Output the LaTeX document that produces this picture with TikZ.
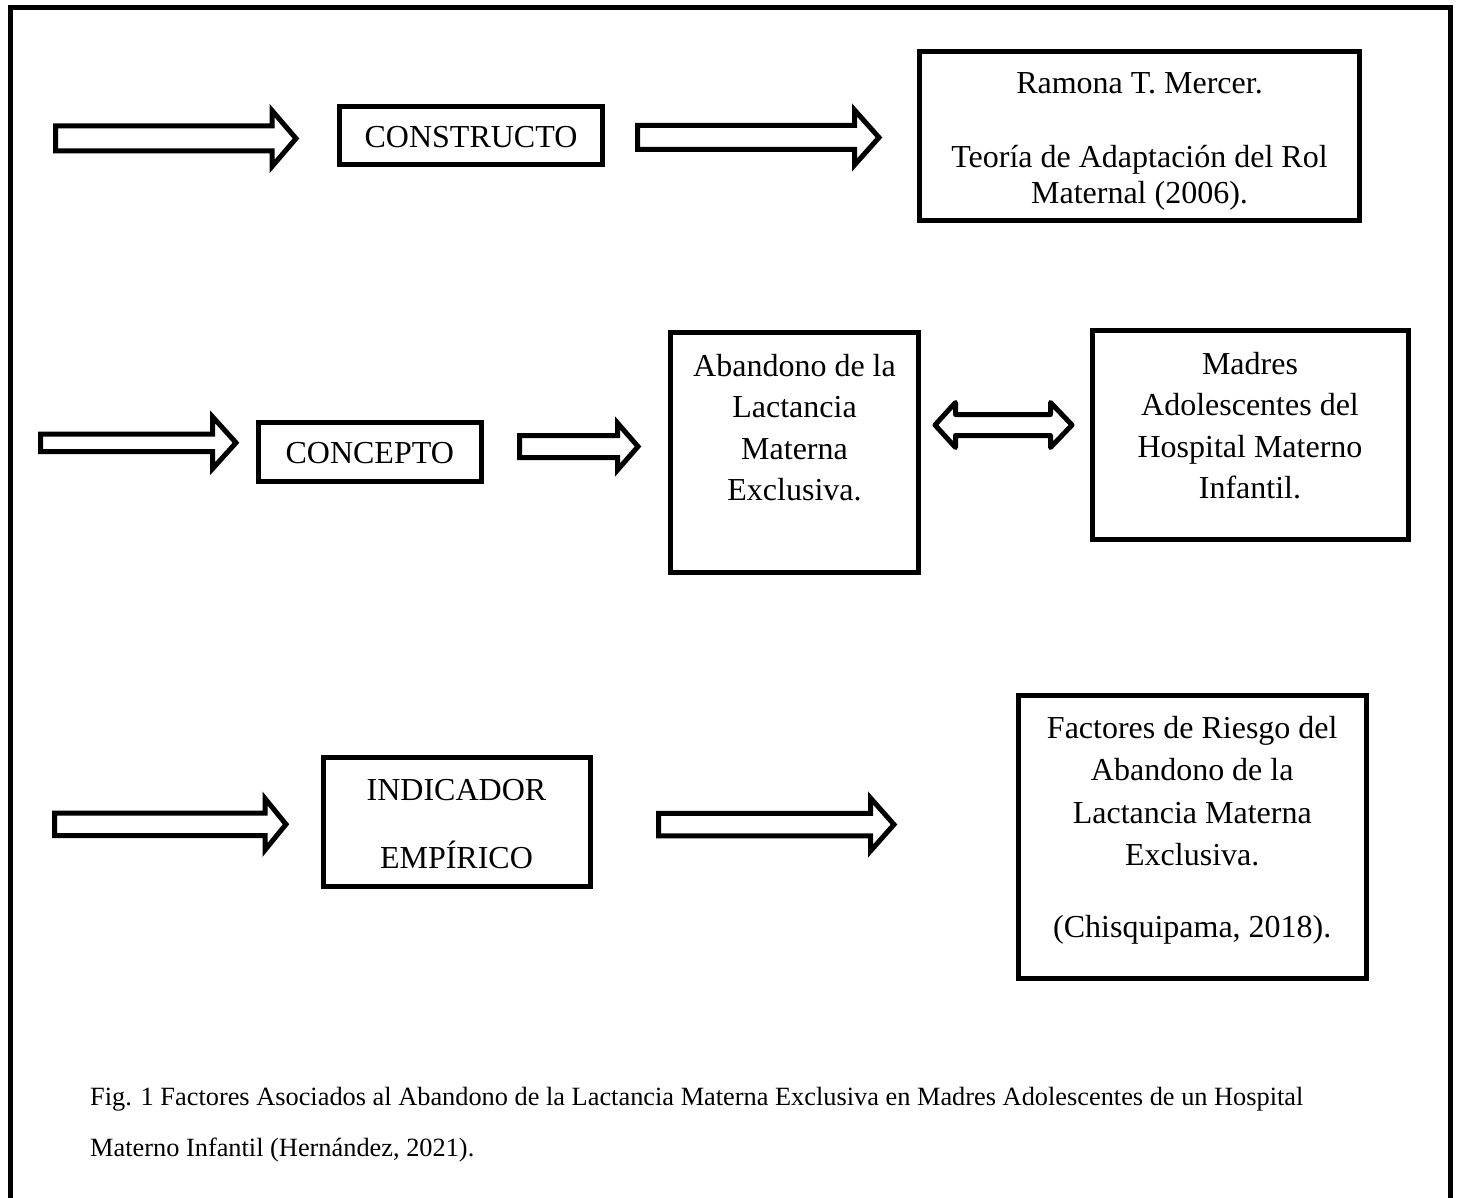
\documentclass[tikz,border=0pt]{standalone}
\usepackage{fontspec}
\setmainfont{Liberation Serif}
\newcommand\bst{\rule{0pt}{24pt}}
\newcommand\cst{\rule{0pt}{20pt}}
\newcommand\barrow[6]{%
  \draw[blockarr] (#1,#4-#5) -- (#2,#4-#5) -- (#2,#4-#6) -- (#3,#4) -- (#2,#4+#6) -- (#2,#4+#5) -- (#1,#4+#5) -- cycle;}
\newcommand\dbarrow[7]{%
  \draw[blockarr,line join=round] (#1,#5) -- (#2,#5-#7) -- (#2,#5-#6) -- (#3,#5-#6) -- (#3,#5-#7) -- (#4,#5) -- (#3,#5+#7) -- (#3,#5+#6) -- (#2,#5+#6) -- (#2,#5+#7) -- cycle;}
\begin{document}
\begin{tikzpicture}[x=1pt,y=-1pt,
  box/.style={draw,line width=5pt,inner sep=0pt},
  blockarr/.style={draw,line width=5pt,line join=miter,fill=white},
  txt/.style={inner sep=0pt,align=center,font=\fontsize{32}{41.5}\selectfont},
  captxt/.style={inner sep=0pt,align=left,font=\fontsize{26.35}{51}\selectfont}]
\useasboundingbox (0,0) rectangle (1460,1198);
\fill[white] (0,0) rectangle (1460,1198);
% outer frame
\draw[line width=5pt] (10.5,1215) -- (10.5,7.5) -- (1450,7.5) -- (1450,1215);

% ---- row 1
\barrow{55.5}{272}{296}{138.5}{12.5}{28}
\node[box,minimum width=263pt,minimum height=58pt] (constructo) at (471,135.5) {};
\node[txt] (tconstructo) at (471,137) {CONSTRUCTO};
\barrow{637.5}{854.5}{879}{137.5}{12}{27.5}
\node[box,minimum width=440pt,minimum height=169pt] (mercer) at (1139.5,136) {};
\node[txt,anchor=north,font=\fontsize{32}{36}\selectfont] (tmercer) at (1139.5,69)
  {\bst Ramona T. Mercer.\\[38.5pt] Teoría de Adaptación del Rol\\ Maternal (2006).};

% ---- row 2
\barrow{40.5}{212.5}{236}{442.75}{8.75}{26}
\node[box,minimum width=222.5pt,minimum height=59pt] (concepto) at (369.75,452) {};
\node[txt] (tconcepto) at (369.75,453) {CONCEPTO};
\barrow{519.5}{617.5}{638}{446.5}{11}{23.5}
\node[box,minimum width=248pt,minimum height=240pt] (abandono) at (794.5,452.5) {};
\node[txt,anchor=north] (tabandono) at (794.5,352)
  {\bst Abandono de la\\ Lactancia\\ Materna\\ Exclusiva.};
\dbarrow{935}{955.5}{1050.5}{1072}{425}{10.5}{22.5}
\node[box,minimum width=316pt,minimum height=209pt] (madres) at (1250,435) {};
\node[txt,anchor=north] (tmadres) at (1250,350)
  {\bst Madres\\ Adolescentes del\\ Hospital Materno\\ Infantil.};

% ---- row 3
\barrow{54.5}{265}{286}{824.25}{11.25}{25.75}
\node[box,minimum width=267pt,minimum height=129pt] (indicador) at (456.5,822) {};
\node[txt,anchor=north] (tindicador) at (456.5,776)
  {\bst INDICADOR\\[26.5pt] EMPÍRICO};
\barrow{658.5}{870.5}{894}{824.5}{11.25}{26.5}
\node[box,minimum width=347.5pt,minimum height=283pt] (factores) at (1192.25,836.5) {};
\node[txt,anchor=north,font=\fontsize{32}{42.5}\selectfont] (tfactores) at (1192.25,714)
  {\bst Factores de Riesgo del\\ Abandono de la\\ Lactancia Materna\\ Exclusiva.\\[29.5pt] (Chisquipama, 2018).};

% ---- caption
\node[captxt,anchor=north west] (caption) at (90,1085)
  {\cst Fig. 1 Factores Asociados al Abandono de la Lactancia Materna Exclusiva en Madres Adolescentes de un Hospital\\
   Materno Infantil (Hernández, 2021).};
\end{tikzpicture}
\end{document}
